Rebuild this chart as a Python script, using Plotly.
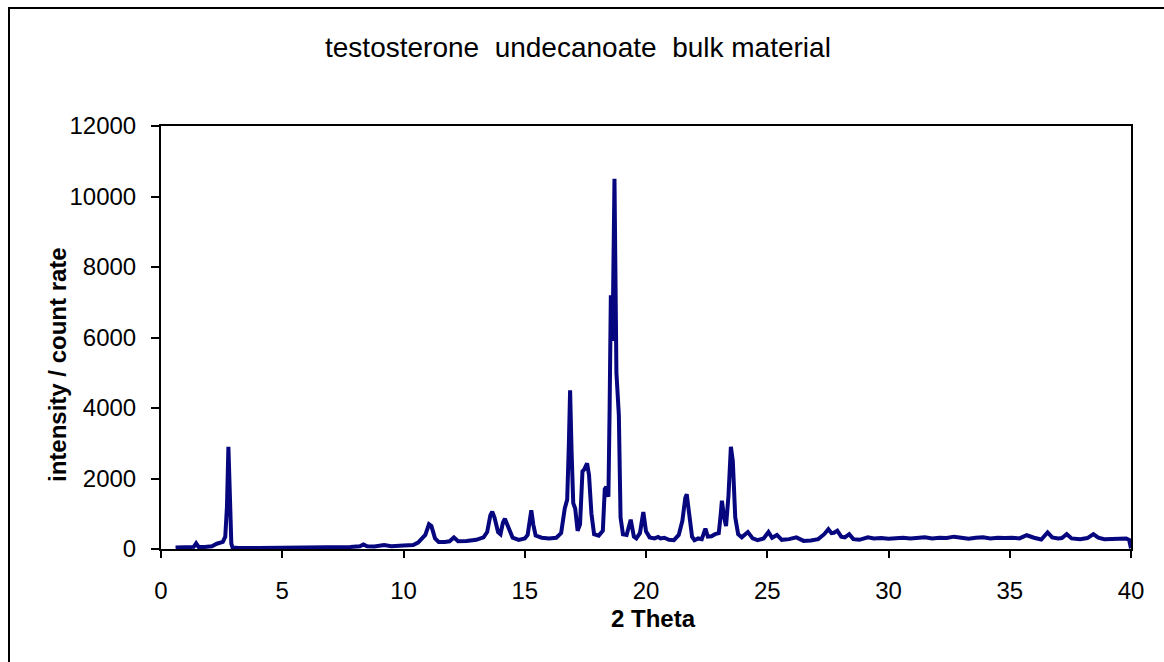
import plotly.graph_objects as go

# Powder X-ray diffraction pattern: 2-theta (degrees) vs intensity (counts)
two_theta = [
    0.60, 1.20, 1.35, 1.45, 1.55, 1.80, 2.10, 2.30, 2.45, 2.55, 2.65, 2.72, 2.78, 2.84, 2.90, 2.95,
    3.20, 4.00, 5.00, 5.50, 6.00, 7.00, 7.80, 8.20, 8.35, 8.50, 8.80, 9.20, 9.50, 10.00, 10.40,
    10.60, 10.75, 10.90, 11.05, 11.15, 11.30, 11.45, 11.70, 11.90, 12.08, 12.25, 12.60, 13.00,
    13.30, 13.45, 13.58, 13.66, 13.75, 13.90, 14.00, 14.10, 14.18, 14.30, 14.50, 14.75, 15.00,
    15.12, 15.20, 15.27, 15.35, 15.45, 15.70, 16.00, 16.30, 16.50, 16.65, 16.75, 16.82, 16.87,
    16.93, 17.00, 17.08, 17.18, 17.28, 17.38, 17.45, 17.57, 17.65, 17.75, 17.86, 18.05, 18.22,
    18.30, 18.36, 18.45, 18.50, 18.55, 18.62, 18.70, 18.78, 18.84, 18.88, 18.95, 19.05, 19.20,
    19.37, 19.50, 19.60, 19.75, 19.89, 20.00, 20.15, 20.35, 20.50, 20.60, 20.75, 20.95, 21.15,
    21.35, 21.50, 21.62, 21.68, 21.78, 21.90, 22.00, 22.15, 22.30, 22.45, 22.55, 22.70, 22.85,
    23.00, 23.07, 23.13, 23.22, 23.30, 23.40, 23.50, 23.58, 23.68, 23.80, 23.95, 24.20, 24.40,
    24.60, 24.85, 25.05, 25.20, 25.40, 25.60, 25.90, 26.20, 26.50, 26.80, 27.10, 27.35, 27.52,
    27.65, 27.75, 27.89, 28.05, 28.20, 28.38, 28.55, 28.80, 29.15, 29.40, 29.70, 30.00, 30.30,
    30.60, 30.90, 31.20, 31.50, 31.80, 32.10, 32.40, 32.70, 33.00, 33.30, 33.60, 33.90, 34.20,
    34.50, 34.80, 35.10, 35.40, 35.70, 36.00, 36.30, 36.56, 36.75, 37.00, 37.15, 37.35, 37.55,
    37.90, 38.20, 38.45, 38.65, 38.90, 39.20, 39.50, 39.80, 39.92, 40.00,
]
intensity = [
    40, 50, 60, 160, 60, 60, 80, 150, 180, 200, 350, 1200, 2900, 1500, 150, 40,
    30, 30, 35, 45, 40, 45, 60, 80, 130, 80, 70, 110, 80, 100, 110,
    180, 280, 400, 700, 650, 300, 200, 200, 220, 330, 220, 230, 260,
    330, 480, 950, 1060, 900, 480, 420, 750, 860, 650, 320, 260, 300,
    400, 800, 1100, 700, 380, 320, 300, 320, 450, 1150, 1400, 3000, 4500,
    2800, 1300, 1150, 520, 700, 2200, 2250, 2430, 2100, 1000, 420, 380, 520,
    1700, 1760, 1480, 4000, 7200, 5900, 10500, 5000, 3950, 3800, 900, 420, 400,
    830, 350, 300, 450, 1050, 500, 330, 300, 340, 300, 320, 260, 250,
    400, 800, 1450, 1550, 1000, 350, 250, 300, 280, 580, 350, 360, 420,
    450, 900, 1370, 900, 650, 1500, 2900, 2500, 900, 420, 330, 480, 300,
    250, 300, 480, 320, 400, 260, 280, 330, 230, 240, 280, 420, 560,
    450, 460, 520, 350, 330, 420, 280, 260, 330, 300, 310, 290, 310,
    320, 300, 310, 330, 300, 320, 310, 350, 320, 290, 320, 330, 300,
    320, 310, 320, 300, 390, 320, 270, 470, 330, 300, 310, 420, 300,
    280, 310, 420, 320, 280, 290, 300, 300, 260, 20,
]

x_ticks = [0, 5, 10, 15, 20, 25, 30, 35, 40]
y_ticks = [0, 2000, 4000, 6000, 8000, 10000, 12000]

W, H = 1164, 662
L, R, T, B = 161, 33, 126, 113
pw, ph = W - L - R, H - T - B


def px(xpix):
    return (xpix - L) / pw


def py(ypix):
    return (H - B - ypix) / ph


font = "Liberation Sans, Arial, sans-serif"

fig = go.Figure()
fig.add_trace(go.Scatter(
    x=two_theta, y=intensity, mode="lines",
    line=dict(color="#06067e", width=4),
    hoverinfo="x+y", showlegend=False,
))

axis_common = dict(
    showgrid=False, zeroline=False, showline=True, linecolor="black",
    linewidth=2, mirror=True, ticks="outside", tickcolor="black",
    tickwidth=2, tickfont=dict(family=font, size=24, color="black"),
)

fig.update_layout(
    width=W, height=H,
    margin=dict(l=L, r=R, t=T, b=B),
    paper_bgcolor="white", plot_bgcolor="white",
    xaxis=dict(range=[0, 40], tickvals=x_ticks, ticktext=[str(v) for v in x_ticks],
               ticklen=7, ticklabelstandoff=12, **axis_common),
    yaxis=dict(range=[0, 12000], tickvals=y_ticks, ticktext=[str(v) for v in y_ticks],
               ticklen=8, ticklabelstandoff=10, **axis_common),
    shapes=[dict(type="rect", xref="paper", yref="paper",
                 x0=px(9), x1=px(1180), y0=py(8), y1=py(680),
                 line=dict(color="black", width=2), layer="below")],
    annotations=[
        dict(text="testosterone  undecanoate  bulk material", xref="paper", yref="paper",
             x=px(578), y=py(47), showarrow=False, xanchor="center", yanchor="middle",
             font=dict(family=font, size=28, color="black")),
        dict(text="<b>2 Theta</b>", xref="paper", yref="paper",
             x=px(653), y=py(618), showarrow=False, xanchor="center", yanchor="middle",
             font=dict(family=font, size=24, color="black")),
        dict(text="<b>intensity / count rate</b>", xref="paper", yref="paper",
             x=px(57), y=py(365), showarrow=False, xanchor="center", yanchor="middle",
             textangle=-90, font=dict(family=font, size=24, color="black")),
    ],
)

fig.write_html("out.html")
